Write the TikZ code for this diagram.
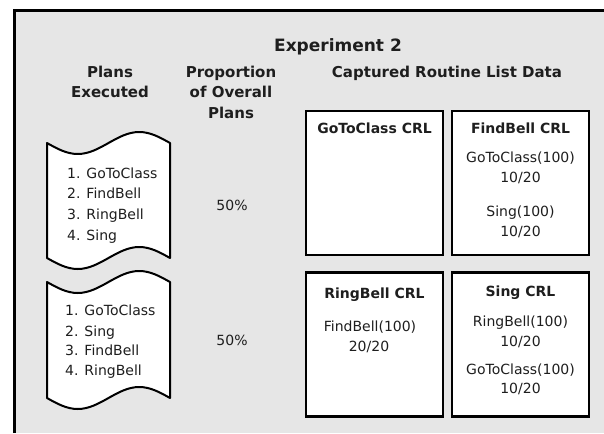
\documentclass[tikz,border=0pt]{standalone}
\usepackage{fontspec}
\setmainfont{DejaVu Sans}
\definecolor{panelgray}{HTML}{E6E6E6}
\definecolor{ink}{HTML}{1E1E1E}
\begin{document}
\begin{tikzpicture}[x=1pt,y=-1pt,
  txt/.style={font=\fontsize{14}{20}\selectfont, text=ink, inner sep=0pt, anchor=base},
  ltxt/.style={txt, anchor=base west},
  hdr/.style={font=\bfseries\fontsize{15}{20}\selectfont, text=ink, inner sep=0pt, anchor=base, align=center},
  boxlbl/.style={font=\bfseries\fontsize{14}{20}\selectfont, text=ink, inner sep=0pt, anchor=base},
  crl/.style={draw=black, fill=white, line width=2.5pt, minimum width=137pt, minimum height=144pt, inner sep=0pt},
  scroll/.style={draw=black, fill=white, line width=2pt, line join=round}]
\useasboundingbox (0,0) rectangle (604,433);
% panel
\fill[panelgray] (14,10) rectangle (604,433);
\draw[black, line width=3pt] (14.5,433) -- (14.5,10.5) -- (604,10.5);

% headers
\node[hdr, font=\bfseries\fontsize{17}{20}\selectfont] (title) at (338,52) {Experiment 2};
\node[hdr] (plans1) at (110,78) {Plans};
\node[hdr] (plans2) at (110,98) {Executed};
\node[hdr] (prop1) at (231,78) {Proportion};
\node[hdr] (prop2) at (231,98) {of Overall};
\node[hdr] (prop3) at (231,118) {Plans};
\node[hdr] (capt) at (447,78) {Captured Routine List Data};

% scrolls
\path[scroll] (47,143) sin (77.75,154) cos (108.5,143) sin (139.25,132) cos (170,143)
  -- (170,258) sin (139.25,247) cos (108.5,258) sin (77.75,269) cos (47,258) -- cycle;
\path[scroll] (47,282) sin (77.75,293) cos (108.5,282) sin (139.25,271) cos (170,282)
  -- (170,398) sin (139.25,387) cos (108.5,398) sin (77.75,409) cos (47,398) -- cycle;

\node[ltxt] (p1a) at (67,178) {1. GoToClass};
\node[ltxt] (p1b) at (67,198) {2. FindBell};
\node[ltxt] (p1c) at (67,219) {3. RingBell};
\node[ltxt] (p1d) at (67,240) {4. Sing};

\node[ltxt] (p2a) at (65,315) {1. GoToClass};
\node[ltxt] (p2b) at (65,336) {2. Sing};
\node[ltxt] (p2c) at (65,355) {3. FindBell};
\node[ltxt] (p2d) at (65,375) {4. RingBell};

\node[txt] (pc1) at (232,210) {50\%};
\node[txt] (pc2) at (232,345) {50\%};

% CRL boxes
\node[crl] (bGo) at (374.5,183) {};
\node[crl] (bFind) at (520.5,183) {};
\node[crl] (bRing) at (374.5,344.5) {};
\node[crl] (bSing) at (520.5,344.5) {};

\node[boxlbl] (lGo) at (374.5,133) {GoToClass CRL};
\node[boxlbl] (lFind) at (520.5,133) {FindBell CRL};
\node[boxlbl] (lRing) at (374.5,298) {RingBell CRL};
\node[boxlbl] (lSing) at (520.5,296) {Sing CRL};

\node[txt] (f1) at (520.5,162) {GoToClass(100)};
\node[txt] (f2) at (520.5,182) {10/20};
\node[txt] (f3) at (520.5,216) {Sing(100)};
\node[txt] (f4) at (520.5,236) {10/20};

\node[txt] (r1) at (370,331) {FindBell(100)};
\node[txt] (r2) at (369,351) {20/20};

\node[txt] (s1) at (520.5,326) {RingBell(100)};
\node[txt] (s2) at (520.5,346) {10/20};
\node[txt] (s3) at (520.5,374) {GoToClass(100)};
\node[txt] (s4) at (520.5,393) {10/20};
\end{tikzpicture}
\end{document}
